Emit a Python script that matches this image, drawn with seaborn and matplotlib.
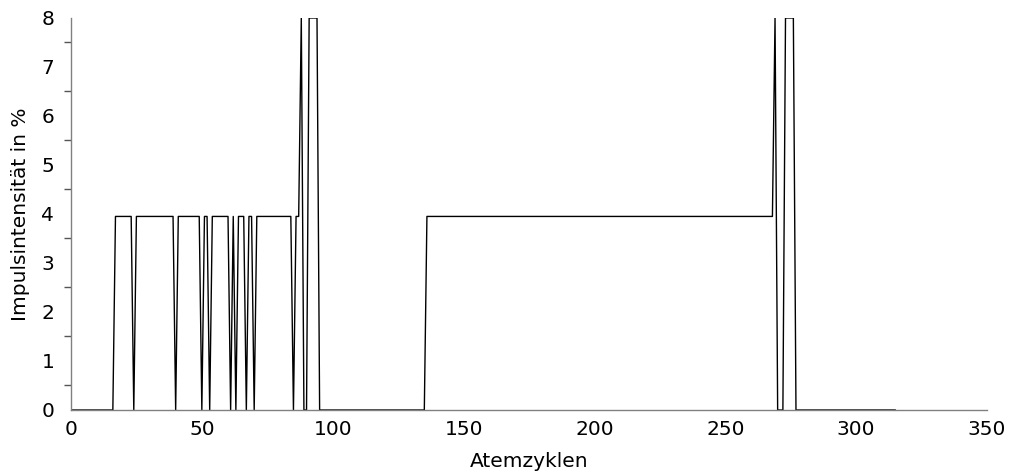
import numpy as np
import pandas as pd
import matplotlib
matplotlib.use("Agg")
import matplotlib.pyplot as plt
import seaborn as sns
from matplotlib.ticker import MultipleLocator

# Run-length description of the series (level, number of cycles)
run_levels = [0, 3.95, 0, 3.95, 0, 3.95, 0, 3.95, 0, 3.95, 0, 3.95, 0, 3.95, 0,
              3.95, 0, 3.95, 0, 3.95, 8, 0, 8, 0, 3.95, 8, 0, 8, 0]
run_lengths = [17, 7, 1, 15, 1, 9, 1, 2, 1, 7, 1, 1, 1, 3, 1,
               2, 1, 14, 1, 2, 1, 2, 4, 41, 133, 1, 3, 4, 39]

intensity = np.repeat(run_levels, run_lengths)
cycles = np.arange(len(intensity))

x_ticks = [0, 50, 100, 150, 200, 250, 300, 350]
y_ticks = [0, 1, 2, 3, 4, 5, 6, 7, 8]

df = pd.DataFrame({"Atemzyklen": cycles, "Impulsintensität in %": intensity})

sns.set_theme(style="white")
plt.rcParams["font.family"] = ["DejaVu Sans"]
plt.rcParams["text.color"] = "black"
plt.rcParams["axes.labelcolor"] = "black"

fig = plt.figure(figsize=(10.11, 4.73), dpi=100)
ax = fig.add_axes([0.0702, 0.1332, 0.9061, 0.8288])

sns.lineplot(data=df, x="Atemzyklen", y="Impulsintensität in %", ax=ax,
             color="black", linewidth=1.0)

ax.set_xlim(0, 350)
ax.set_ylim(0, 8)
ax.set_xticks(x_ticks)
ax.set_yticks(y_ticks)
ax.yaxis.set_minor_locator(MultipleLocator(0.5))

for s in ["top", "right"]:
    ax.spines[s].set_visible(False)
for s in ["left", "bottom"]:
    ax.spines[s].set_color("#808080")
    ax.spines[s].set_linewidth(1.0)

ax.tick_params(axis="y", which="major", direction="out", length=9,
               width=1, color="#555555", labelsize=14.5, pad=3, labelcolor="black")
ax.tick_params(axis="y", which="minor", direction="out", length=5,
               width=1, color="#555555", left=True)
ax.tick_params(axis="x", which="major", direction="out", length=3.5,
               width=1, color="#555555", labelsize=14.5, pad=4, labelcolor="black")
ax.tick_params(axis="x", which="minor", bottom=False)

ax.set_xlabel("Atemzyklen", fontsize=14.5, labelpad=9, color="black")
ax.set_ylabel("Impulsintensität in %", fontsize=14.5, labelpad=8, color="black")
ax.grid(False)

fig.savefig("out.png", dpi=100)
